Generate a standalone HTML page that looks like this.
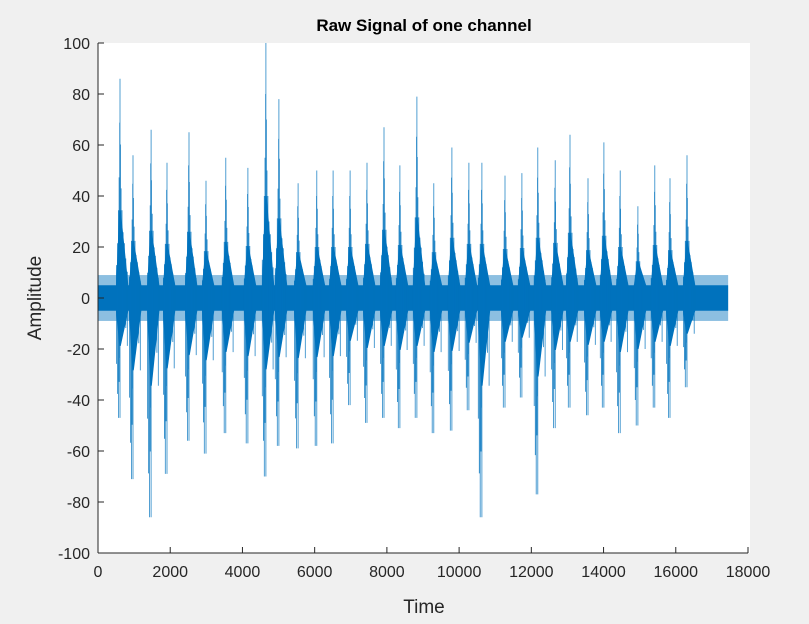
<!DOCTYPE html>
<html><head><meta charset="utf-8"><style>
body{margin:0;background:#f0f0f0;}
svg{display:block;font-family:"Liberation Sans",Arial,sans-serif;}
</style></head><body>
<svg id="chart" width="809" height="624">
<rect x="0" y="0" width="809" height="624" fill="#f0f0f0"/>
<rect x="98" y="43" width="652" height="510" fill="#fff"/>
<g id="marks"></g>
<g id="axes"></g>
<text x="424" y="31" text-anchor="middle" font-size="17" font-weight="bold" fill="#000">Raw Signal of one channel</text>
<text x="424" y="613" text-anchor="middle" font-size="19" fill="#262626">Time</text>
<text transform="translate(41,298) rotate(-90)" text-anchor="middle" font-size="19" fill="#262626">Amplitude</text>
</svg>
<script>
const xTicks=[0,2000,4000,6000,8000,10000,12000,14000,16000,18000];
const yTicks=[-100,-80,-60,-40,-20,0,20,40,60,80,100];
const signalEnd=17450;
const noiseLevel=5;
const fuzzLevel=9;
const burstTimes=[610,970,1470,1910,2520,2990,3540,4150,4650,5010,5540,6060,6510,6980,7450,7920,8360,8830,9300,9800,10270,10630,11270,11740,12180,12660,13070,13570,14010,14460,14950,15420,15840,16310];
const burstMax=[86,56,66,53,65,46,55,51,100,78,45,50,50,50,53,67,52,79,45,59,53,53,48,49,59,54,64,47,61,50,36,52,47,56];
const burstMin=[-47,-71,-86,-69,-56,-61,-53,-57,-70,-58,-59,-58,-57,-42,-49,-47,-51,-47,-53,-52,-44,-86,-43,-39,-77,-51,-43,-46,-43,-53,-50,-43,-47,-35];

const X0=98,X1=748,Y0=553,Y1=43;
const xs=t=>X0+(t-0)/(18000-0)*(X1-X0);
const ys=v=>Y0-(v+100)/200*(Y0-Y1);
const NS="http://www.w3.org/2000/svg";
const marks=document.getElementById('marks');
const axes=document.getElementById('axes');
const C="#0072BD";
function mk(tag,attrs,parent){const e=document.createElementNS(NS,tag);for(const k in attrs)e.setAttribute(k,attrs[k]);parent.appendChild(e);return e;}

const fuzz=mk('rect',{x:xs(0),y:ys(fuzzLevel),width:xs(signalEnd)-xs(0),height:ys(-fuzzLevel)-ys(fuzzLevel),fill:C,'fill-opacity':0.45},marks);


const band=mk('rect',{x:xs(0),y:ys(noiseLevel),width:xs(signalEnd)-xs(0),height:ys(-noiseLevel)-ys(noiseLevel),fill:C},marks);



const offs=[-100,-70,-45,-25,-10,0,12,30,55,85,120,160,200];
const fr=[0.15,0.25,0.4,0.55,0.8,1,0.7,0.5,0.4,0.3,0.25,0.18,0.12];
burstTimes.forEach((t,i)=>{
  const g=mk('g',{},marks);
  
  
  mk('polygon',{points:`${xs(t-110)},${ys(noiseLevel)} ${xs(t-20)},${ys(burstMax[i]*0.4)} ${xs(t+20)},${ys(burstMax[i]*0.4)} ${xs(t+230)},${ys(noiseLevel)} ${xs(t+230)},${ys(-noiseLevel)} ${xs(t+20)},${ys(burstMin[i]*0.4)} ${xs(t-20)},${ys(burstMin[i]*0.4)} ${xs(t-110)},${ys(-noiseLevel)}`,fill:C},g);
  let d='';
  offs.forEach((o,j)=>{
    const up=o===0?burstMax[i]:burstMax[i]*fr[j];
    const dn=o===0?burstMin[i]:burstMin[i]*fr[(j+3)%fr.length];
    d+=`M${xs(t+o).toFixed(1)},${ys(up).toFixed(1)}L${xs(t+o).toFixed(1)},${ys(dn).toFixed(1)}`;
  });
  mk('path',{d:d,stroke:C,'stroke-width':0.8,'stroke-opacity':0.85,fill:'none'},g);
});

mk('line',{x1:X0,y1:Y1,x2:X0,y2:Y0,stroke:'#262626'},axes);
mk('line',{x1:X0,y1:Y0,x2:X1,y2:Y0,stroke:'#262626'},axes);
xTicks.forEach(t=>{
  const x=xs(t);
  mk('line',{x1:x,y1:Y0,x2:x,y2:Y0-6,stroke:'#262626'},axes);
  const tx=mk('text',{x:x,y:Y0+24,'text-anchor':'middle','font-size':16,fill:'#262626'},axes);
  tx.textContent=t;
  
  
});
yTicks.forEach(v=>{
  const y=ys(v);
  mk('line',{x1:X0,y1:y,x2:X0+6,y2:y,stroke:'#262626'},axes);
  const tx=mk('text',{x:X0-8,y:y+6,'text-anchor':'end','font-size':16,fill:'#262626'},axes);
  tx.textContent=v;
  
  
});
</script>
</body></html>
